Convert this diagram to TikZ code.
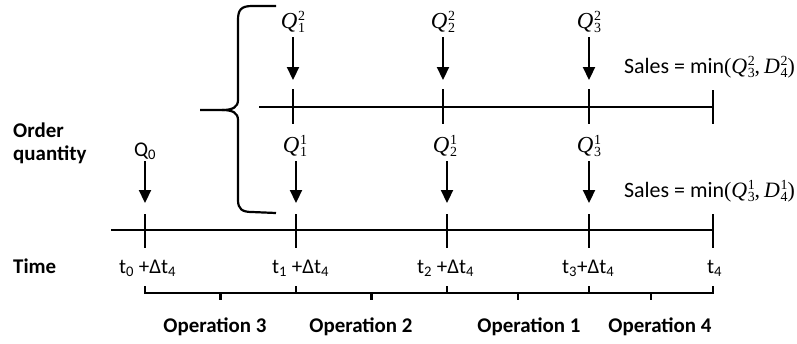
\documentclass[tikz,border=0pt]{standalone}
\usepackage{fontspec}
\setmainfont{Carlito}
\newfontfamily\mfont{Liberation Serif}
\usetikzlibrary{arrows.meta}
\newcommand{\sfnt}{\mfont\fontsize{14}{14}\selectfont}
\newcommand{\qv}[3]{{\mfont\itshape #1}\kern0.5bp\rlap{\raisebox{-4bp}{\sfnt #2}}\raisebox{8bp}{\sfnt #3}}
\tikzset{
  line/.style={line width=2.2bp},
  darrow/.style={line width=2.2bp,-{Triangle[width=12bp,length=13bp]}},
  lbl/.style={inner sep=0pt,font=\fontsize{21}{24}\selectfont},
  slbl/.style={inner sep=0pt,font=\fontsize{22}{24}\selectfont},
  blbl/.style={inner sep=0pt,font=\fontsize{21}{24}\selectfont\bfseries},
  qlbl/.style={inner sep=0pt,font=\fontsize{23}{24}\selectfont},
}
\begin{document}
\begin{tikzpicture}[x=1bp,y=-1bp]
\useasboundingbox (0,0) rectangle (797,343);
% top timeline
\coordinate (ts) at (259,107);
\coordinate (te) at (713,107);
\draw[line] (ts) -- (te);
\foreach \n/\x in {a/293,b/443,c/589}{
  \coordinate (tt\n) at (\x,89);
  \coordinate (tb\n) at (\x,124);
  \draw[line] (tt\n) -- (tb\n);
}
\coordinate (tte) at (713,90);
\coordinate (tbe) at (713,124);
\draw[line] (tte) -- (tbe);
% bottom timeline
\coordinate (bs) at (111,230);
\coordinate (be) at (713,230);
\draw[line] (bs) -- (be);
\foreach \n/\x in {o/145,a/296,b/447,c/589,e/713}{
  \coordinate (bt\n) at (\x,214);
  \coordinate (bb\n) at (\x,248);
  \draw[line] (bt\n) -- (bb\n);
}
% upper Q labels and arrows
\node[qlbl] (q12) at (293,22) {\qv{Q}{1}{2}};
\node[qlbl] (q22) at (443,22) {\qv{Q}{2}{2}};
\node[qlbl] (q32) at (589,22) {\qv{Q}{3}{2}};
\foreach \n/\x in {a/293,b/443,c/589}{
  \coordinate (ua\n) at (\x,37);
  \coordinate (ue\n) at (\x,80);
  \draw[darrow] (ua\n) -- (ue\n);
}
% lower Q labels and arrows
\node[qlbl] (q11) at (295,146) {\qv{Q}{1}{1}};
\node[qlbl] (q21) at (445,146) {\qv{Q}{2}{1}};
\node[qlbl] (q31) at (589,146) {\qv{Q}{3}{1}};
\node[lbl] (q0) at (145,151) {Q\textsubscript{0}};
\foreach \n/\x in {o/145,a/296,b/447,c/589}{
  \coordinate (la\n) at (\x,161);
  \coordinate (le\n) at (\x,203);
  \draw[darrow] (la\n) -- (le\n);
}
% sales labels
\node[slbl,anchor=east] (s2) at (795,67) {Sales = min{\mfont(}\qv{Q}{3}{2}{\mfont,}\hspace{4bp}\qv{D}{4}{2}{\mfont)}};
\node[slbl,anchor=east] (s1) at (795,191) {Sales = min{\mfont(}\qv{Q}{3}{1}{\mfont,}\hspace{4bp}\qv{D}{4}{1}{\mfont)}};
% big brace
\coordinate (br) at (200,110);
\draw[line] (276,6) -- (252,6) .. controls (241,6) and (238,10) .. (238,20) -- (238,100)
  .. controls (238,107) and (233,110) .. (222,110) -- (br);
\draw[line] (222,110) .. controls (233,110) and (238,113) .. (238,120) -- (238,200)
  .. controls (238,209) and (242,212) .. (252,212) -- (276,213);
% left labels
\node[blbl,anchor=west] (oq1) at (13,130) {Order};
\node[blbl,anchor=west] (oq2) at (13,155) {quantity};
\node[blbl,anchor=west] (tm) at (13,266) {Time};
% time labels
\node[lbl,anchor=base west] (t0) at (119,273) {t\textsubscript{0} +Δt\textsubscript{4}};
\node[lbl,anchor=base west] (t1) at (272,273) {t\textsubscript{1} +Δt\textsubscript{4}};
\node[lbl,anchor=base west] (t2) at (417,273) {t\textsubscript{2} +Δt\textsubscript{4}};
\node[lbl,anchor=base west] (t3) at (562,273) {t\textsubscript{3}+Δt\textsubscript{4}};
\node[lbl,anchor=base west] (t4) at (707,273) {t\textsubscript{4}};
% operation braces
\foreach \a/\b in {145/296,296/447,447/589,589/713}{
  \draw[line] (\a,286) -- (\a,293) -- (\b,293) -- (\b,286);
  \draw[line] ({(\a+\b)/2},293) -- ({(\a+\b)/2},300);
}
\node[blbl] (op3) at (215,327) {Operation 3};
\node[blbl] (op2) at (361,327) {Operation 2};
\node[blbl] (op1) at (529,327) {Operation 1};
\node[blbl] (op4) at (660,327) {Operation 4};
\end{tikzpicture}
\end{document}
